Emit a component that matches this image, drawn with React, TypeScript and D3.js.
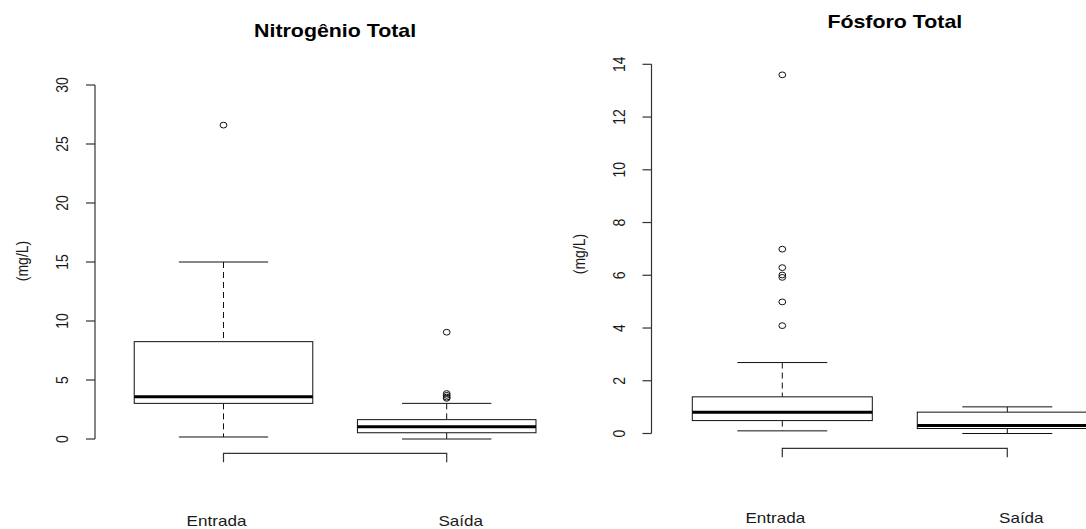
import React from "react";
import * as d3 from "d3";

const categories = ["Entrada", "Saída"];

const nitroTitle = "Nitrogênio Total";
const nitroTicks = [0, 5, 10, 15, 20, 25, 30];
const nitroLower = [0.17, 0.0];
const nitroQ1 = [3.02, 0.53];
const nitroMedian = [3.58, 1.04];
const nitroQ3 = [8.25, 1.64];
const nitroUpper = [15.0, 3.02];
const nitroOutliers = [[26.6], [9.05, 3.85, 3.7, 3.55, 3.45]];

const fosTitle = "Fósforo Total";
const fosTicks = [0, 2, 4, 6, 8, 10, 12, 14];
const fosLower = [0.1, 0.0];
const fosQ1 = [0.49, 0.19];
const fosMedian = [0.81, 0.3];
const fosQ3 = [1.39, 0.81];
const fosUpper = [2.69, 1.01];
const fosOutliers = [[13.6, 6.99, 6.29, 6.01, 5.92, 4.99, 4.09], []];

const yLabel = "(mg/L)";

const SX = 1.22; // horizontal stretch of the original rendering
const FONT = "'Liberation Sans', Arial, sans-serif";

type PanelProps = {
  title: string;
  ticks: number[];
  yMax: number;
  lower: number[];
  q1: number[];
  median: number[];
  q3: number[];
  upper: number[];
  outliers: number[][];
  xLeft: number;
  xRight: number;
  yTop: number;
  yBottom: number;
  axisX: number;
  tickLabelX: number;
  yLabelX: number;
  yLabelY: number;
  titleY: number;
  bracketY: number;
  catLabelY: number;
};

function Panel(p: PanelProps) {
  const x = d3.scaleLinear().domain([0.5, 2.5]).range([p.xLeft, p.xRight]);
  const y = d3.scaleLinear().domain([0, p.yMax]).range([p.yBottom, p.yTop]);
  const boxW = x(1.4) - x(1);
  const capW = x(1.2) - x(1);
  const labelOffsets = [-7, 14];
  const ink = "#111";
  return (
    <g>
      <text
        transform={`translate(${(p.xLeft + p.xRight) / 2},${p.titleY}) scale(${SX},1)`}
        textAnchor="middle"
        fontFamily={FONT}
        fontWeight="bold"
        fontSize={17.5}
        fill="#000"
      >
        {p.title}
      </text>
      <line
        x1={p.axisX}
        x2={p.axisX}
        y1={y(p.ticks[0])}
        y2={y(p.ticks[p.ticks.length - 1])}
        stroke="#333"
        strokeWidth={1.2}
      />
      {p.ticks.map((t) => (
        <g key={t}>
          <line x1={p.axisX - 9} x2={p.axisX} y1={y(t)} y2={y(t)} stroke="#333" strokeWidth={1.2} />
          <text
            transform={`translate(${p.tickLabelX},${y(t)}) scale(${SX},1) rotate(-90)`}
            textAnchor="middle"
            fontFamily={FONT}
            fontSize={14}
            fill="#1a1a1a"
          >
            {t}
          </text>
        </g>
      ))}
      <text
        transform={`translate(${p.yLabelX},${p.yLabelY}) scale(${SX},1) rotate(-90)`}
        textAnchor="middle"
        fontFamily={FONT}
        fontSize={14}
        fill="#1a1a1a"
      >
        {yLabel}
      </text>
      {categories.map((c, i) => {
        const cx = x(i + 1);
        return (
          <g key={c}>
            <line x1={cx} x2={cx} y1={y(p.upper[i])} y2={y(p.q3[i])} stroke={ink} strokeDasharray="6,4" />
            <line x1={cx} x2={cx} y1={y(p.q1[i])} y2={y(p.lower[i])} stroke={ink} strokeDasharray="6,4" />
            <line x1={cx - capW} x2={cx + capW} y1={y(p.upper[i])} y2={y(p.upper[i])} stroke={ink} />
            <line x1={cx - capW} x2={cx + capW} y1={y(p.lower[i])} y2={y(p.lower[i])} stroke={ink} />
            <rect
              x={cx - boxW}
              y={y(p.q3[i])}
              width={boxW * 2}
              height={y(p.q1[i]) - y(p.q3[i])}
              fill="white"
              stroke={ink}
            />
            <line
              x1={cx - boxW}
              x2={cx + boxW}
              y1={y(p.median[i])}
              y2={y(p.median[i])}
              stroke="#000"
              strokeWidth={3}
            />
            {p.outliers[i].map((v, k) => (
              <ellipse key={k} cx={cx} cy={y(v)} rx={3.4} ry={2.9} fill="none" stroke={ink} />
            ))}
          </g>
        );
      })}
      <path
        d={`M${x(1)},${p.bracketY + 9}V${p.bracketY}H${x(2)}V${p.bracketY + 9}`}
        fill="none"
        stroke="#333"
        strokeWidth={1.2}
      />
      {categories.map((c, i) => (
        <text
          key={c}
          transform={`translate(${x(i + 1) + labelOffsets[i]},${p.catLabelY}) scale(${SX},1)`}
          textAnchor="middle"
          fontFamily={FONT}
          fontSize={14}
          fill="#1a1a1a"
        >
          {c}
        </text>
      ))}
    </g>
  );
}

export default function App() {
  return (
    <svg
      width={1086}
      height={529}
      style={{ position: "absolute", left: 0, top: 0, background: "white" }}
    >
      <rect width={1086} height={529} fill="white" />
      <Panel
        title={nitroTitle}
        ticks={nitroTicks}
        yMax={30}
        lower={nitroLower}
        q1={nitroQ1}
        median={nitroMedian}
        q3={nitroQ3}
        upper={nitroUpper}
        outliers={nitroOutliers}
        xLeft={111.9}
        xRight={558.3}
        yTop={85}
        yBottom={439}
        axisX={95}
        tickLabelX={68}
        yLabelX={28}
        yLabelY={261}
        titleY={37}
        bracketY={453.3}
        catLabelY={526}
      />
      <Panel
        title={fosTitle}
        ticks={fosTicks}
        yMax={14}
        lower={fosLower}
        q1={fosQ1}
        median={fosMedian}
        q3={fosQ3}
        upper={fosUpper}
        outliers={fosOutliers}
        xLeft={669.8}
        xRight={1119.8}
        yTop={64.3}
        yBottom={433.5}
        axisX={651.5}
        tickLabelX={625}
        yLabelX={585}
        yLabelY={254}
        titleY={28}
        bracketY={448.3}
        catLabelY={523}
      />
    </svg>
  );
}
